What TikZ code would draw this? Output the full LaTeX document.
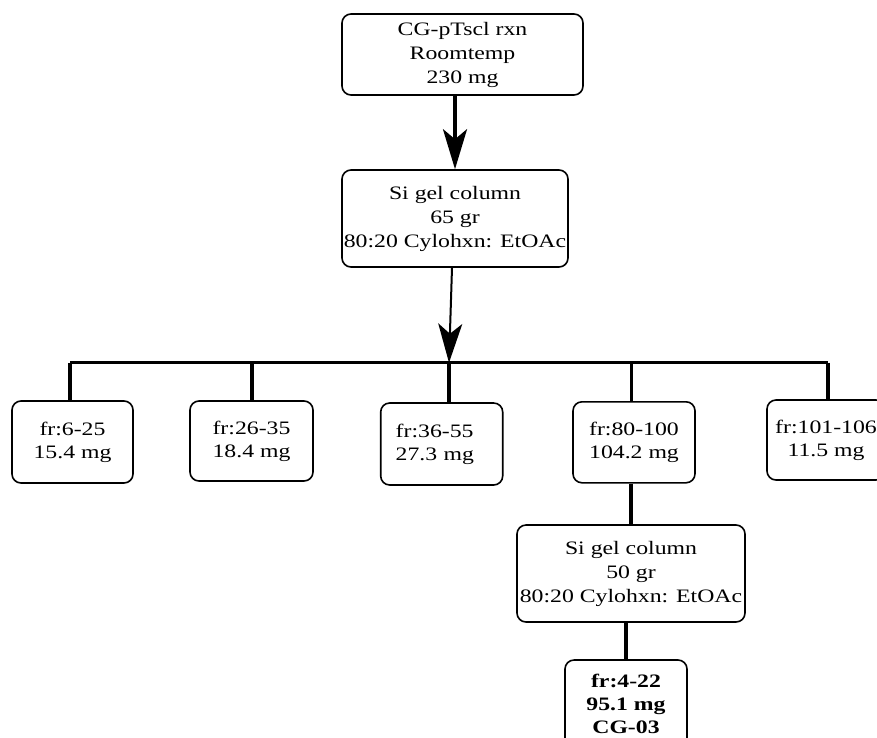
\documentclass[tikz,border=0pt]{standalone}
\usepackage{fontspec}
\setmainfont{Liberation Serif}[FakeStretch=1.25]
\usetikzlibrary{arrows.meta}
\begin{document}
\begin{tikzpicture}[x=1pt,y=-1pt,
  box/.style={draw, line width=1.6pt, rounded corners=9pt, align=center, inner sep=0pt, font=\fontsize{19}{24}\selectfont},
  smallbox/.style={box, font=\fontsize{19}{23}\selectfont},
  conn/.style={line width=3.5pt},
  bus/.style={line width=3pt},
  bigarrow/.style={-{Stealth[length=40pt,width=24pt,inset=10pt]}, line width=3.5pt},
  thinarrow/.style={-{Stealth[length=39pt,width=24pt,inset=10pt]}, line width=2pt},
]
\useasboundingbox (0,0) rectangle (877,737);
\clip (0,0) rectangle (877,737);

\node[box, minimum width=241, minimum height=81] (top) at (462.5,54.5)
  {CG-pTscl rxn\\Roomtemp\\230 mg};
\node[box, minimum width=226, minimum height=97] (sg1) at (455,218.5)
  {Si gel column\\65 gr\\80:20 Cylohxn: EtOAc};

\coordinate (b1) at (70,362.7);
\coordinate (b2) at (252,362.7);
\coordinate (b3) at (449,362.7);
\coordinate (b4) at (631.5,362.7);
\coordinate (b5) at (828,362.7);

\node[smallbox, minimum width=121, minimum height=82] (f1) at (72.5,442) {fr:6-25\\15.4 mg};
\node[smallbox, minimum width=123, minimum height=80] (f2) at (251.5,441) {fr:26-35\\18.4 mg};
\node[smallbox, minimum width=122, minimum height=82, text width=92, align=left] (f3) at (441.7,444) {fr:36-55\\27.3 mg};
\node[smallbox, minimum width=122, minimum height=81] (f4) at (634,442.3) {fr:80-100\\104.2 mg};
\node[smallbox, minimum width=118, minimum height=80] (f5) at (826,440) {fr:101-106\\11.5 mg};

\node[box, minimum width=228, minimum height=97] (sg2) at (631,573.5)
  {Si gel column\\50 gr\\80:20 Cylohxn: EtOAc};
\node[box, minimum width=122, minimum height=88, font=\fontsize{19}{23}\selectfont\bfseries] (fin) at (626,704)
  {fr:4-22\\95.1 mg\\CG-03};

\draw[bigarrow] (sg1.north |- top.south) -- (sg1.north);
\draw[thinarrow] ([xshift=-3pt]sg1.south) -- (b3);
\draw[bus] (b1) -- (b5);
\draw[conn] (b1) -- (b1 |- f1.north);
\draw[conn] (b2) -- (b2 |- f2.north);
\draw[conn] (b3) -- (b3 |- f3.north);
\draw[conn] (b4) -- (b4 |- f4.north);
\draw[conn] (b5) -- (b5 |- f5.north);
\draw[conn] (sg2.north |- f4.south) -- (sg2.north);
\draw[conn] (fin.north |- sg2.south) -- (fin.north);
\end{tikzpicture}
\end{document}
